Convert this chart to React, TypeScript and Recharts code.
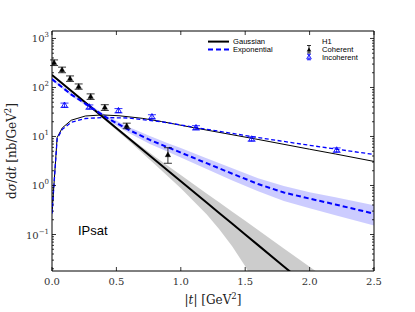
import React from 'react';
import { ComposedChart, Line, Area, Scatter, XAxis, YAxis, ErrorBar, ReferenceArea, Customized } from 'recharts';

// ---------- data ----------
// Coherent, Gaussian profile (solid black) with uncertainty band (gray)
const gCohT = [0, 0.2, 0.4, 0.6, 0.8, 1.0, 1.2, 1.3, 1.4, 1.5, 1.6, 1.8, 2.0, 2.1];
const gCohV = [180, 66.2, 24.4, 8.97, 3.3, 1.22, 0.448, 0.272, 0.165, 0.1, 0.0607, 0.0223, 0.0082, 0.005];
const gCohHi = [188, 69.3, 25.5, 9.6, 3.88, 1.64, 0.69, 0.451, 0.29, 0.19, 0.124, 0.052, 0.022, 0.0144];
const gCohLo = [172, 63.2, 22.8, 8.0, 2.69, 0.88, 0.258, 0.127, 0.057, 0.0224, 0.0076, 0.001, 0.0003, 0.0002];

// Coherent, exponential profile (dashed blue) with band (light blue)
const eCohT = [0, 0.15, 0.3, 0.43, 0.6, 0.76, 0.9, 1.0, 1.2, 1.4, 1.6, 1.8, 2.0, 2.2, 2.5];
const eCohV = [148, 71.6, 39.8, 23.7, 13.5, 8.5, 6.0, 4.7, 2.85, 1.74, 1.07, 0.72, 0.54, 0.41, 0.266];
const eCohHi = [158.5, 76.7, 43.2, 26.2, 15.5, 10.2, 7.3, 5.8, 3.6, 2.25, 1.41, 0.98, 0.73, 0.575, 0.394];
const eCohLo = [138, 66.8, 36.7, 21.4, 11.7, 7.0, 4.9, 3.72, 2.16, 1.26, 0.76, 0.484, 0.343, 0.248, 0.153];

// Incoherent, Gaussian (thin black) and exponential (thin dashed blue)
const gIncT = [0, 0.04, 0.08, 0.15, 0.26, 0.39, 0.52, 0.7, 0.85, 1.1, 1.6, 2.0, 2.2, 2.5];
const gIncV = [0.27, 9.5, 15, 21.5, 26.2, 27.5, 26.5, 23.5, 20.2, 15.1, 8.7, 5.5, 4.4, 3.1];
const eIncT = [0, 0.04, 0.08, 0.15, 0.26, 0.4, 0.6, 0.85, 1.1, 1.6, 2.0, 2.2, 2.5];
const eIncV = [0.27, 9, 14, 19.5, 23.3, 24.3, 23.8, 20, 15.5, 9.5, 6.6, 5.55, 4.3];

// H1 data
const h1CohT = [0.016, 0.078, 0.14, 0.207, 0.3, 0.41, 0.58, 0.9];
const h1CohV = [320, 228, 151, 104, 65, 39, 16.4, 4.2];
const h1CohErrLo = [40, 28, 18, 12, 8, 5, 2, 1.36];
const h1CohErrHi = [45, 32, 21, 14, 9, 5.5, 2.3, 1.7];
const h1IncT = [0.097, 0.29, 0.516, 0.776, 1.118, 1.55, 2.21];
const h1IncV = [43.5, 40, 33.7, 25.3, 15.1, 8.9, 5.3];
const h1IncErr = [4.5, 4, 3.4, 2.5, 1.5, 0.9, 0.55];

// axes
const xTicks = [0, 0.5, 1.0, 1.5, 2.0, 2.5];
const yMajor = [0.1, 1, 10, 100, 1000];
const yMinorMult = [2, 3, 4, 5, 6, 7, 8, 9];
const yDecades = [0.01, 0.1, 1, 10, 100];
const Y_MIN = 0.018;
const Y_MAX = 1420;

const yTicks = [
  ...yMajor,
  ...yDecades.flatMap((d) => yMinorMult.map((m) => +(m * d).toPrecision(3))),
].filter((v) => v >= Y_MIN && v <= Y_MAX).sort((a, b) => a - b);

// ---------- derived tables ----------
const gCohData = gCohT.map((t, i) => ({ t, v: gCohV[i], r: [gCohLo[i], gCohHi[i]] }));
const eCohData = eCohT.map((t, i) => ({ t, v: eCohV[i], r: [eCohLo[i], eCohHi[i]] }));
const gIncData = gIncT.map((t, i) => ({ t, v: gIncV[i] }));
const eIncData = eIncT.map((t, i) => ({ t, v: eIncV[i] }));
const cohData = h1CohT.map((t, i) => ({ t, v: h1CohV[i], e: [h1CohErrLo[i], h1CohErrHi[i]] }));
const incData = h1IncT.map((t, i) => ({ t, v: h1IncV[i], e: [h1IncErr[i], h1IncErr[i]] }));

// ---------- layout ----------
const W = 415;
const H = 312;
const PL = 52;
const PT = 31;
const PR = 374;
const PB = 271;
const SERIF = 'DejaVu Serif';
const SANS = 'Liberation Sans';
const BLUE = '#0000ff';

const XTick = (props: any) => {
  const { x, payload } = props;
  return (
    <g>
      <line x1={x} x2={x} y1={PB} y2={PB - 4} stroke="#000" strokeWidth={0.8} />
      <line x1={x} x2={x} y1={PT} y2={PT + 4} stroke="#000" strokeWidth={0.8} />
      <text x={x} y={PB + 13.5} textAnchor="middle" fontFamily={SERIF} fontSize={10} fill="#333">
        {Number(payload.value).toFixed(1)}
      </text>
    </g>
  );
};

const YTick = (props: any) => {
  const { y, payload } = props;
  const v = Number(payload.value);
  const lg = Math.log10(v);
  const exp = Math.round(lg);
  const major = Math.abs(lg - exp) < 1e-6;
  const len = major ? 4 : 2;
  return (
    <g>
      <line x1={PL} x2={PL + len} y1={y} y2={y} stroke="#000" strokeWidth={0.8} />
      <line x1={PR - len} x2={PR} y1={y} y2={y} stroke="#000" strokeWidth={0.8} />
      {major && (
        <text x={PL - 3} y={y + 4} textAnchor="end" fontFamily={SERIF} fontSize={10} fill="#333">
          10
          <tspan dy={-5} fontSize={7}>{exp < 0 ? '\u2212' + Math.abs(exp) : String(exp)}</tspan>
        </text>
      )}
    </g>
  );
};

const triPath = (cx: number, cy: number, s: number) =>
  `M${cx},${cy - s} L${cx + s * 0.9},${cy + s * 0.6} L${cx - s * 0.9},${cy + s * 0.6} Z`;

const FilledTri = (p: any) => <path d={triPath(p.cx, p.cy, 3.0)} fill="#000" stroke="#000" strokeWidth={0.4} />;
const OpenTri = (p: any) => <path d={triPath(p.cx, p.cy, 3.2)} fill="none" stroke={BLUE} strokeWidth={0.9} />;

const Overlay = () => (
  <g>
    {/* axis labels */}
    <text
      transform={`translate(16,151) rotate(-90)`}
      textAnchor="middle"
      fontFamily={SERIF}
      fontSize={12}
      fill="#222"
    >
      d<tspan fontStyle="italic">σ</tspan>/d<tspan fontStyle="italic">t</tspan> [nb/GeV
      <tspan dy={-5} fontSize={8.5}>2</tspan>
      <tspan dy={5}>]</tspan>
    </text>
    <text x={213} y={304} textAnchor="middle" fontFamily={SERIF} fontSize={12} fill="#222">
      |<tspan fontStyle="italic">t</tspan>| [GeV
      <tspan dy={-5} fontSize={8.5}>2</tspan>
      <tspan dy={5}>]</tspan>
    </text>
    {/* model label */}
    <text x={78} y={234.5} fontFamily={SANS} fontSize={13} fill="#000">IPsat</text>
    {/* legend */}
    <g fontFamily={SANS} fontSize={7.6} fill="#000">
      <line x1={208} x2={229} y1={41.6} y2={41.6} stroke="#000" strokeWidth={2} />
      <text x={233} y={44.3}>Gaussian</text>
      <line x1={208} x2={229} y1={49.4} y2={49.4} stroke={BLUE} strokeWidth={2} strokeDasharray="5 3" />
      <text x={233} y={52.1}>Exponential</text>
      <text x={322} y={44.3}>H1</text>
      <text x={322} y={52.1}>Coherent</text>
      <text x={322} y={59.9}>Incoherent</text>
      <line x1={309} x2={309} y1={45.5} y2={53} stroke="#000" strokeWidth={0.8} />
      <line x1={307} x2={311} y1={45.5} y2={45.5} stroke="#000" strokeWidth={0.8} />
      <line x1={307} x2={311} y1={53} y2={53} stroke="#000" strokeWidth={0.8} />
      <path d={triPath(309, 50, 2.6)} fill="#000" />
      <line x1={309} x2={309} y1={54.3} y2={59.8} stroke={BLUE} strokeWidth={0.8} />
      <line x1={307} x2={311} y1={54.3} y2={54.3} stroke={BLUE} strokeWidth={0.8} />
      <line x1={307} x2={311} y1={59.8} y2={59.8} stroke={BLUE} strokeWidth={0.8} />
      <path d={triPath(309, 57.3, 2.6)} fill="none" stroke={BLUE} strokeWidth={0.8} />
    </g>
  </g>
);

export default function App() {
  return (
    <div style={{ position: 'absolute', left: 0, top: 0, width: W, height: H, background: '#fff' }}>
      <ComposedChart width={W} height={H} margin={{ top: PT, right: W - PR, left: 0, bottom: 0 }}>
        <XAxis
          dataKey="t"
          type="number"
          domain={[0, 2.5]}
          ticks={xTicks}
          interval={0}
          allowDataOverflow
          axisLine={false}
          tickLine={false}
          tick={<XTick />}
          height={H - PB}
        />
        <YAxis
          type="number"
          scale="log"
          domain={[Y_MIN, Y_MAX]}
          ticks={yTicks}
          interval={0}
          allowDataOverflow
          axisLine={false}
          tickLine={false}
          tick={<YTick />}
          width={PL}
        />
        <Area data={gCohData} dataKey="r" type="linear" stroke="none" fill="#000" fillOpacity={0.2} isAnimationActive={false} activeDot={false} />
        <Area data={eCohData} dataKey="r" type="linear" stroke="none" fill={BLUE} fillOpacity={0.2} isAnimationActive={false} activeDot={false} />
        <Line data={gIncData} dataKey="v" type="linear" stroke="#000" strokeWidth={1} dot={false} activeDot={false} isAnimationActive={false} />
        <Line data={eIncData} dataKey="v" type="linear" stroke={BLUE} strokeWidth={1.3} strokeDasharray="4 2.5" dot={false} activeDot={false} isAnimationActive={false} />
        <Line data={gCohData} dataKey="v" type="linear" stroke="#000" strokeWidth={2} dot={false} activeDot={false} isAnimationActive={false} />
        <Line data={eCohData} dataKey="v" type="linear" stroke={BLUE} strokeWidth={2} strokeDasharray="5 3" dot={false} activeDot={false} isAnimationActive={false} />
        <Scatter data={cohData} dataKey="v" shape={<FilledTri />} isAnimationActive={false}>
          <ErrorBar dataKey="e" direction="y" width={4} stroke="#000" strokeWidth={0.8} />
        </Scatter>
        <Scatter data={incData} dataKey="v" shape={<OpenTri />} isAnimationActive={false}>
          <ErrorBar dataKey="e" direction="y" width={4} stroke={BLUE} strokeWidth={0.8} />
        </Scatter>
        <ReferenceArea x1={0} x2={2.5} y1={Y_MIN} y2={Y_MAX} fill="none" stroke="#000" strokeWidth={1} ifOverflow="visible" />
        <Customized component={<Overlay />} />
      </ComposedChart>
    </div>
  );
}
